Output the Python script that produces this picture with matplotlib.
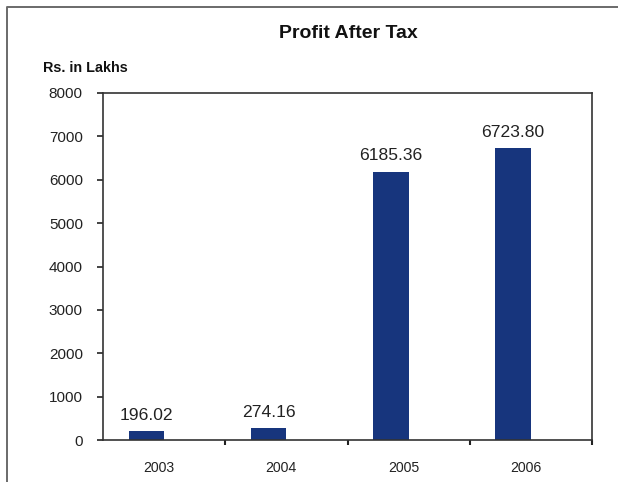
import matplotlib
matplotlib.use("Agg")
import matplotlib.pyplot as plt
import matplotlib.transforms as mtransforms
from matplotlib.lines import Line2D

years = ["2003", "2004", "2005", "2006"]
profit = [196.02, 274.16, 6185.36, 6723.80]
yticks = [0, 1000, 2000, 3000, 4000, 5000, 6000, 7000, 8000]

plt.rcParams["font.family"] = ["Liberation Sans", "DejaVu Sans"]

W, H = 618, 482
fig = plt.figure(figsize=(W / 100, H / 100), dpi=100)
ax = fig.add_axes([103 / W, 1 - 440 / H, (592 - 103) / W, (440 - 93) / H])

bar_color = "#17357D"
bar_w = 0.29
xs = [i - bar_w / 2 for i in range(len(years))]
ax.bar(xs, profit, width=bar_w, color=bar_color, zorder=2)

for x, v in zip(xs, profit):
    ax.annotate(f"{v:.2f}", (x, v), xytext=(0, 6), textcoords="offset points",
                ha="center", va="bottom", fontsize=12.6, color="#222222")

ax.set_xlim(-0.5, len(years) - 0.5)
ax.set_ylim(0, 8000)
ax.set_yticks(yticks)
ax.set_yticklabels([str(t) for t in yticks], fontsize=11, color="#222222")
ax.tick_params(axis="y", direction="out", length=4.5, width=1.2, color="#222222", pad=10)

# category boundary ticks and centered labels
ax.set_xticks([i + 0.5 for i in range(len(years))])
ax.set_xticklabels([])
ax.tick_params(axis="x", which="major", direction="out", length=3.5, width=1.5, color="#222222")
ax.set_xticks(range(len(years)), minor=True)
ax.set_xticklabels(years, minor=True, fontsize=10.2, color="#222222")
ax.tick_params(axis="x", which="minor", length=0, pad=15)
shift = mtransforms.ScaledTranslation(-5 / 100, 0, fig.dpi_scale_trans)
for lbl in ax.get_xticklabels(minor=True):
    lbl.set_transform(lbl.get_transform() + shift)

for s in ax.spines.values():
    s.set_color("#333333")
    s.set_linewidth(1.2)

fig.text(348 / W, 1 - 33 / H, "Profit After Tax", ha="center", va="center",
         fontsize=14, fontweight="bold", color="#111111")
fig.text(43 / W, 1 - 68 / H, "Rs. in Lakhs", ha="left", va="center",
         fontsize=10.4, fontweight="bold", color="#111111")

# outer frame (left and top edges)
fig.add_artist(Line2D([6.5 / W, 6.5 / W, 1.0], [0.0, 1 - 6.5 / H, 1 - 6.5 / H],
                      transform=fig.transFigure, color="#6a6a6a", lw=1.4))

fig.savefig("out.png", dpi=100)
